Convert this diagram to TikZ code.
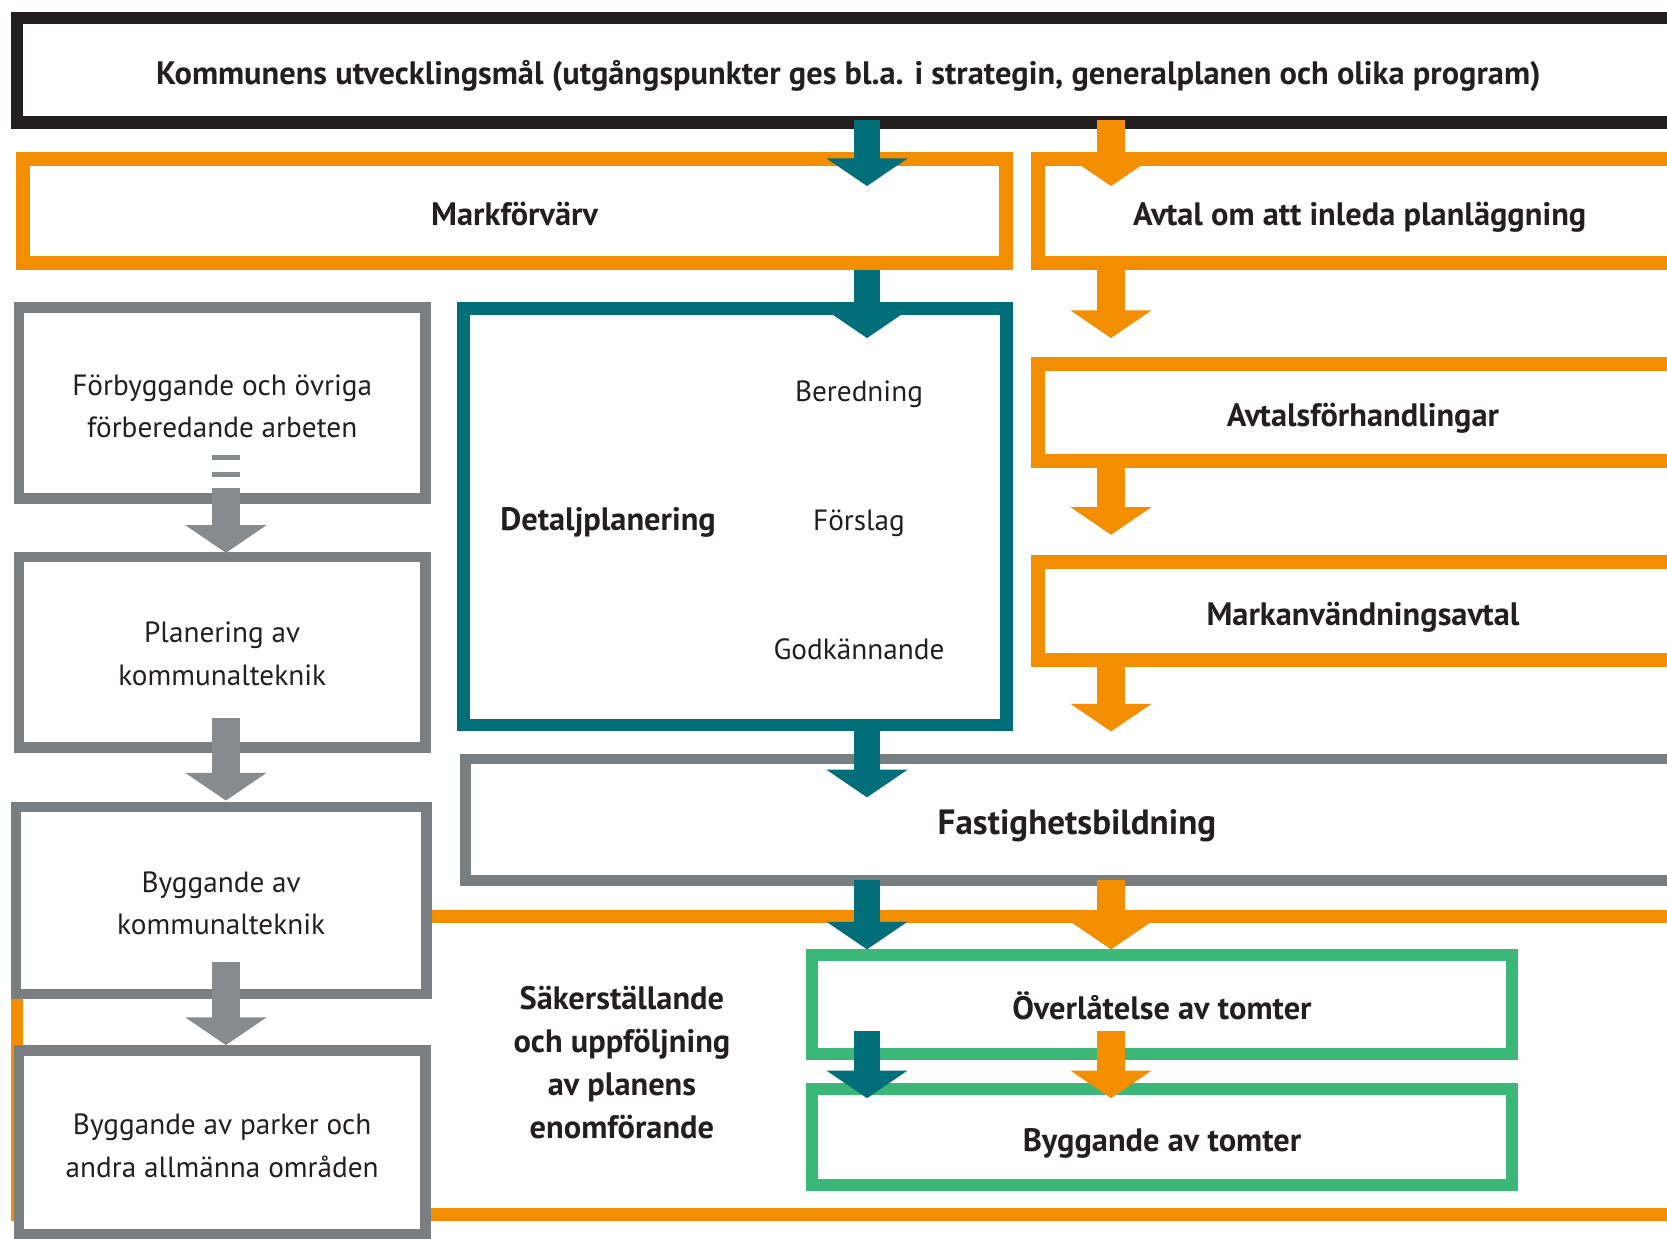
\documentclass[tikz,border=0pt]{standalone}
\usepackage{fontspec}
\setmainfont{PT Sans}
\usetikzlibrary{arrows.meta}
\definecolor{cBlack}{HTML}{231F20}
\definecolor{cOrange}{HTML}{F28E00}
\definecolor{cTeal}{HTML}{006F7A}
\definecolor{cGray}{HTML}{7A7E81}
\definecolor{cGrayA}{HTML}{878B8D}
\definecolor{cGreen}{HTML}{3BB878}
\tikzset{
  box/.style={rectangle, fill=white, inner sep=0pt, outer sep=0pt, align=center},
  kbox/.style={box, draw=cBlack, line width=12pt},
  obox/.style={box, draw=cOrange, line width=13pt},
  tbox/.style={box, draw=cTeal, line width=12pt},
  gbox/.style={box, draw=cGray, line width=10pt},
  grbox/.style={box, draw=cGreen, line width=11pt},
  txt/.style={inner sep=0pt, align=center},
  bf/.style={font=\fontsize{30.5}{40.5}\selectfont\bfseries},
  bfl/.style={font=\fontsize{33}{40}\selectfont\bfseries},
  oneline/.style={text height=27pt, text depth=0pt},
  tarrow/.style={draw=cTeal, line width=25pt, -{Triangle[width=75pt,length=26pt]}},
  oarrow/.style={draw=cOrange, line width=26pt, -{Triangle[width=75pt,length=26pt]}},
  garrow/.style={draw=cGrayA, line width=27pt, -{Triangle[width=75pt,length=26pt]}},
}
\begin{document}
\begin{tikzpicture}[x=1pt,y=-1pt, every node/.append style={font=\fontsize{27.5}{40}\selectfont, text=cBlack}]
\useasboundingbox (0,0) rectangle (1568,1165);
\clip (0,0) rectangle (1568,1165);
\fill[white] (0,0) rectangle (1568,1165);

% columns for connectors
\coordinate (cT) at (815.5,0);
\coordinate (cO) at (1045,0);
\coordinate (cG) at (212.5,0);

% large orange frame (implementation phase)
\node[box, fill=none, draw=cOrange, line width=12pt, minimum width=1584pt, minimum height=280.5pt] (frame) at (808,1002.25) {};

% boxes
\node[kbox, minimum width=1564pt, minimum height=98pt, bf, oneline] (goal) at (798,66)
  {Kommunens utvecklingsmål (utgångspunkter ges bl.a. i strategin, generalplanen och olika program)};
\node[obox, minimum width=925pt, minimum height=98pt, bf, oneline] (mark) at (484,198.5) {Markförvärv};
\node[obox, minimum width=605pt, minimum height=98pt, bf, oneline] (avtal) at (1279,198.5) {Avtal om att inleda planläggning};
\node[obox, minimum width=611pt, minimum height=91pt, bf, oneline] (forh) at (1282,388) {Avtalsförhandlingar};
\node[obox, minimum width=611pt, minimum height=92pt, bf, oneline] (mavt) at (1282,574.5) {Markanvändningsavtal};

\node[tbox, minimum width=511pt, minimum height=392pt] (detalj) at (691.5,486) {};
\node[txt, bf] (detaljT) at (572,491) {Detaljplanering};
\node[txt] (bered) at (808,371) {Beredning};
\node[txt] (forsl) at (808,492) {Förslag};
\node[txt] (godk) at (808,611) {Godkännande};

\node[gbox, minimum width=1150pt, minimum height=114pt, bfl, oneline] (fast) at (1013,771) {Fastighetsbildning};

\node[gbox, minimum width=382pt, minimum height=180pt] (g1) at (209,379) {};
\node[txt] (g1t) at ([yshift=-3pt]g1.center) {Förbyggande och övriga\\förberedande arbeten};
\node[gbox, minimum width=382pt, minimum height=179pt] (g2) at (209,613.5) {};
\node[txt] (g2t) at ([yshift=-1.5pt]g2.center) {Planering av\\kommunalteknik};
\node[gbox, minimum width=386pt, minimum height=176pt] (g3) at (208,847) {};
\node[txt] (g3t) at ([yshift=-2.5pt]g3.center) {Byggande av\\kommunalteknik};
\node[gbox, minimum width=382pt, minimum height=173pt] (g4) at (209,1074.5) {};
\node[txt] (g4t) at ([yshift=-3.5pt]g4.center) {Byggande av parker och\\andra allmänna områden};

\node[grbox, minimum width=659pt, minimum height=93pt, bf, oneline] (overl) at (1093,945) {Överlåtelse av tomter};
\node[grbox, minimum width=659pt, minimum height=90pt, bf, oneline] (byggt) at (1093,1069.5) {Byggande av tomter};

\node[txt, bf] (saker) at (585,999.5) {Säkerställande\\och uppföljning\\av planens\\enomförande};

% dashes above first gray arrow
\fill[cGrayA] (199,428) rectangle (226,433);
\fill[cGrayA] (199,444) rectangle (226,449);

% connectors
\draw[tarrow] ([yshift=2pt]goal.south -| cT) -- ([yshift=-25.5pt]mark.north -| cT);
\draw[oarrow] ([yshift=2pt]goal.south -| cO) -- ([yshift=-25.5pt]avtal.north -| cO);
\draw[tarrow] ([yshift=-6.5pt]mark.south -| cT) -- ([yshift=-28pt]detalj.north -| cT);
\draw[oarrow] ([yshift=-6.5pt]avtal.south -| cO) -- ([yshift=24.5pt]forh.north -| cO);
\draw[oarrow] ([yshift=-6.5pt]forh.south -| cO) -- ([yshift=25.5pt]mavt.north -| cO);
\draw[oarrow] ([yshift=-6.5pt]mavt.south -| cO) -- ([yshift=26pt]fast.north -| cO);
\draw[tarrow] ([yshift=-6pt]detalj.south -| cT) -- ([yshift=-36pt]fast.north -| cT);
\draw[tarrow] (fast.south -| cT) -- ([yshift=5.5pt]overl.north -| cT);
\draw[oarrow] (fast.south -| cO) -- ([yshift=5.5pt]overl.north -| cO);
\draw[tarrow] ([yshift=21.5pt]overl.south -| cT) -- ([yshift=-8.5pt]byggt.north -| cT);
\draw[oarrow] ([yshift=21.5pt]overl.south -| cO) -- ([yshift=-8.5pt]byggt.north -| cO);
\draw[garrow] ([yshift=10pt]g1.south -| cG) -- ([yshift=4pt]g2.north -| cG);
\draw[garrow] ([yshift=28pt]g2.south -| cG) -- ([yshift=6pt]g3.north -| cG);
\draw[garrow] ([yshift=30pt]g3.south -| cG) -- ([yshift=5pt]g4.north -| cG);
\end{tikzpicture}
\end{document}
